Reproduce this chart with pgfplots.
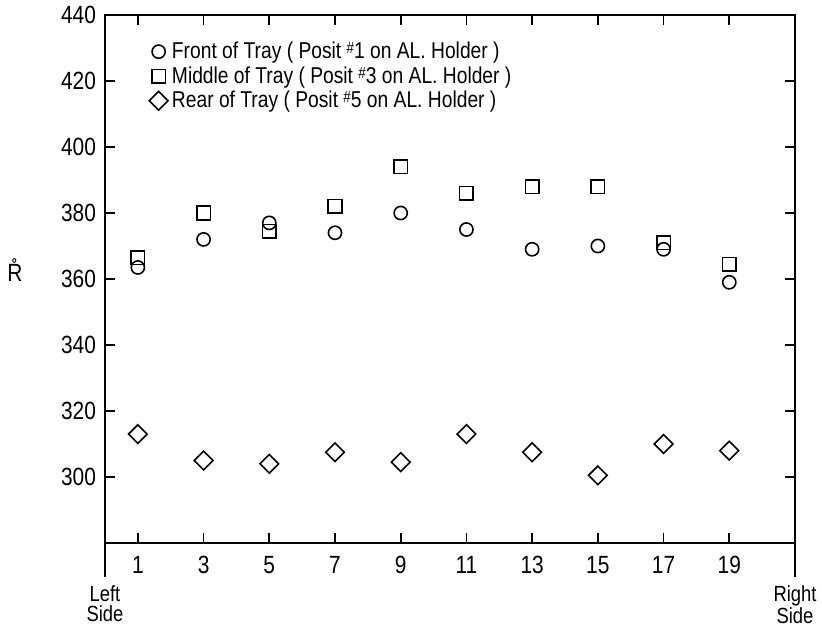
\documentclass[border=0pt]{standalone}
\usepackage{fontspec}
\setmainfont{Liberation Sans}[FakeStretch=0.84]
\usepackage{pgfplots}
\pgfplotsset{compat=1.18}
\newcommand{\hs}{\raisebox{0.4ex}{\fontsize{8}{8}\selectfont\#}}
\begin{document}
\begin{tikzpicture}
\begin{axis}[
  name=ax, at={(0,0)}, anchor=south west,
  scale only axis, width=345bp, height=264bp,
  xmin=0, xmax=21, ymin=280, ymax=440,
  xtick={1,3,...,19}, ytick={300,320,...,440},
  tick align=inside, major tick length=5bp,
  axis line style={line width=1bp},
  every tick/.style={black, line width=0.8bp},
  /pgf/number format/assume math mode=true,
  tick label style={font=\fontsize{12.5}{14}\selectfont},
  xticklabel style={yshift=-3bp},
  yticklabel style={xshift=-1bp},
  clip=false,
  every axis y label/.style={at={(rel axis cs:0,0.517)}, xshift=-45bp, anchor=center},
  ylabel={\fontsize{12.5}{14}\selectfont\r{R}},
  legend style={draw=none, fill=none, at={(rel axis cs:0.055,0.965)}, anchor=north west,
    font=\fontsize{11.5}{12}\selectfont, row sep=-1.5bp},
  legend cell align=left,
]
\addplot[only marks, mark=o, mark size=3.3bp, mark options={line width=0.8bp}] coordinates {
  (1,363.5)(3,372)(5,377)(7,374)(9,380)(11,375)(13,369)(15,370)(17,369)(19,359)
};
\addlegendentry{Front of Tray ( Posit \hs1 on AL. Holder )}
\addplot[only marks, mark=square, mark size=3.4bp, mark options={line width=0.8bp}] coordinates {
  (1,366.5)(3,380)(5,374.5)(7,382)(9,394)(11,386)(13,388)(15,388)(17,371)(19,364.5)
};
\addlegendentry{Middle of Tray ( Posit \hs3 on AL. Holder )}
\addplot[only marks, mark=square, mark size=3.3bp, mark options={line width=0.8bp, rotate=45}] coordinates {
  (1,313)(3,305)(5,304)(7,307.5)(9,304.5)(11,313)(13,307.5)(15,300.5)(17,310)(19,308)
};
\addlegendentry{Rear of Tray ( Posit \hs5 on AL. Holder )}
\end{axis}
\draw[line width=1bp] (ax.south west) -- ++(0,-17bp);
\draw[line width=1bp] (ax.south east) -- ++(0,-17bp);
\node[align=center, anchor=north, font=\fontsize{11}{10}\selectfont, inner sep=0pt] at ([yshift=-21bp]ax.south west) {Left\\Side};
\node[align=center, anchor=north, font=\fontsize{11}{10}\selectfont, inner sep=0pt] at ([yshift=-21bp]ax.south east) {Right\\Side};
\pgfresetboundingbox
\path[use as bounding box] (-52.5bp,-43.5bp) rectangle (358.5bp,271.5bp);
\end{tikzpicture}
\end{document}
